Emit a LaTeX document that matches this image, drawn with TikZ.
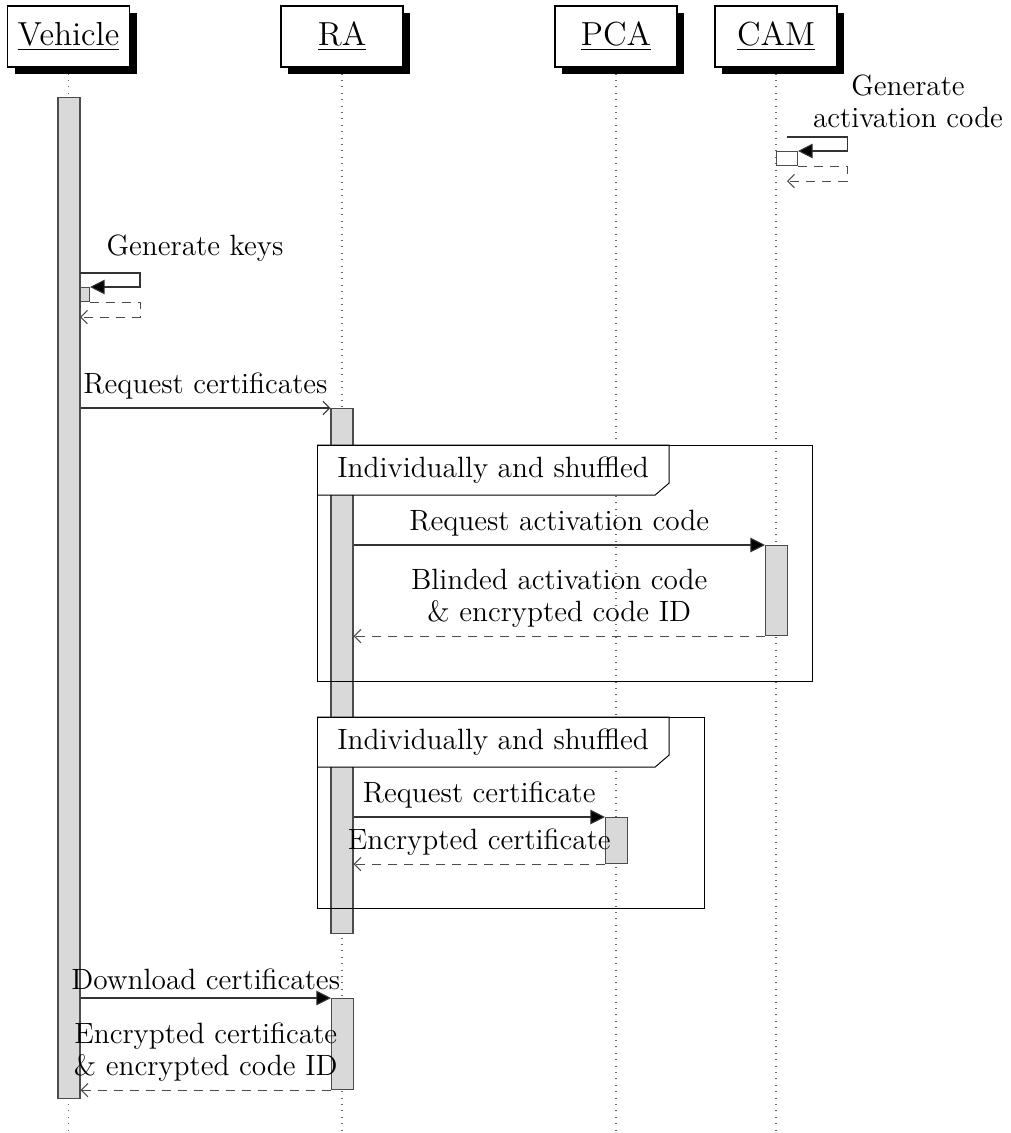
\documentclass[tikz,border=0pt]{standalone}
\usetikzlibrary{arrows.meta,calc,shadows}
\newcommand{\pxl}{0.375pt}
\tikzset{
  inst/.style={draw, fill=white, minimum width=122*\pxl, minimum height=61*\pxl,
    font=\fontsize{12.5}{14}\selectfont, drop shadow={shadow xshift=7*\pxl, shadow yshift=-7*\pxl, opacity=1, fill=black}},
  lifeline/.style={dotted, black!60},
  actbar/.style={draw=black!70, fill=black!15, minimum width=22*\pxl, inner sep=0pt, anchor=north},
  selfbox/.style={draw=black!70, inner sep=0pt, anchor=north west, minimum height=14*\pxl},
  call/.style={black!80, -{Triangle[length=5.5pt,width=5.5pt,fill=black]}},
  asyn/.style={black!80, -{Straight Barb[length=2.5pt,width=5pt]}},
  ret/.style={black!70, dash pattern=on 3.5pt off 2.5pt, -{Straight Barb[length=2.5pt,width=5pt]}},
  lbl/.style={above=2pt, align=center, inner sep=1pt, text=black},
  frame/.style={line width=0.35pt},
  fraglbl/.style={fill=white, anchor=north west, minimum width=351*\pxl, minimum height=49*\pxl, inner sep=0pt}
}
\begin{document}
\begin{tikzpicture}[x=0.375pt, y=-0.375pt, font=\fontsize{11}{12}\selectfont]
  \useasboundingbox (0,0) rectangle (1011,1133);
  % instances
  \node[inst] (veh) at (68.5,36.5) {\underline{Vehicle}};
  \node[inst] (ra)  at (342,36.5) {\underline{RA}};
  \node[inst] (pca) at (616,36.5) {\underline{PCA}};
  \node[inst] (cam) at (776,36.5) {\underline{CAM}};
  % lifelines
  \foreach \i in {veh,ra,pca,cam}
    \draw[lifeline] ($(\i.south)+(0,6)$) -- (\i.south |- 0,1133);

  % activation bars
  \node[actbar, minimum height=1001*\pxl] (vbar) at (69,97) {};
  \node[actbar, minimum height=525*\pxl] (rabar) at (342,408) {};

  % CAM generates the activation code
  \node[selfbox, fill=white, minimum width=21*\pxl] (camkey) at (776,151) {};
  \draw[call] ($(camkey.north)+(0,-14)$) -- ++(60,0) |- (camkey.north east);
  \draw[ret] (camkey.south east) -- ++(49,0) |- ($(camkey.south)+(0,15)$);
  \node[align=center] (camlbl) at (908,101) {Generate\\activation code};

  % vehicle generates keys
  \node[selfbox, fill=black!15, minimum width=9*\pxl] (vkey) at (80,287) {};
  \draw[call] ($(vkey.north west)+(0,-14)$) -- ++(60,0) |- (vkey.north east);
  \draw[ret] (vkey.south east) -- ++(50,0) |- ($(vkey.south west)+(0,15)$);
  \node (keylbl) at (195,248) {Generate keys};

  \draw[asyn] (vbar.east |- rabar.north west) -- node[lbl] {Request certificates} (rabar.north west);

  % first fragment
  \draw[frame] (317,445) rectangle (812,681);
  \node[fraglbl] (f1lbl) at (317,445) {Individually and shuffled};
  \draw[frame] (f1lbl.north west) -- (f1lbl.north east) -- ($(f1lbl.south east)+(0,-12)$)
    -- ($(f1lbl.south east)+(-14,0)$) -- (f1lbl.south west);
  \node[actbar, minimum height=90*\pxl] (cambar) at (776.5,545) {};
  \draw[call] (rabar.east |- cambar.north west) -- node[lbl] {Request activation code} (cambar.north west);
  \draw[ret] (cambar.south west) -- node[lbl] {Blinded activation code\\\& encrypted code ID} (rabar.east |- cambar.south west);

  % second fragment
  \draw[frame] (317,717) rectangle (704,908);
  \node[fraglbl] (f2lbl) at (317,717) {Individually and shuffled};
  \draw[frame] (f2lbl.north west) -- (f2lbl.north east) -- ($(f2lbl.south east)+(0,-12)$)
    -- ($(f2lbl.south east)+(-14,0)$) -- (f2lbl.south west);
  \node[actbar, minimum height=46*\pxl] (pcabar) at (616.5,817) {};
  \draw[call] (rabar.east |- pcabar.north west) -- node[lbl] {Request certificate} (pcabar.north west);
  \draw[ret] (pcabar.south west) -- node[lbl] {Encrypted certificate} (rabar.east |- pcabar.south west);

  % download
  \node[actbar, minimum height=91*\pxl] (rabar2) at (342.5,998) {};
  \draw[call] (vbar.east |- rabar2.north west) -- node[lbl] {Download certificates} (rabar2.north west);
  \draw[ret] (rabar2.south west) -- node[lbl] {Encrypted certificate\\\& encrypted code ID} (vbar.east |- rabar2.south west);
\end{tikzpicture}
\end{document}
